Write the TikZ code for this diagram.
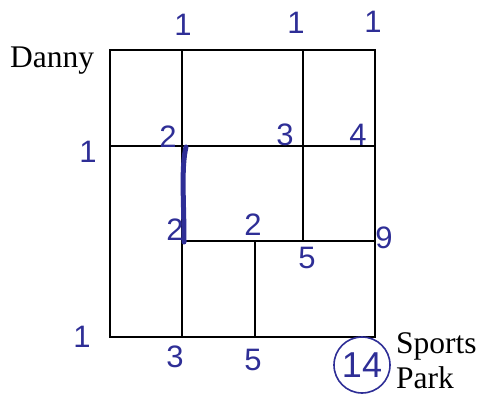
\documentclass[tikz,border=0pt]{standalone}
\usepackage{fontspec}
\setmainfont{Liberation Serif}
\newfontfamily\handfont{Liberation Sans}
\definecolor{ink}{RGB}{46,46,150}
\tikzset{
  wall/.style={draw=black,line width=2pt},
  hand/.style={text=ink,inner sep=0pt,font=\handfont\fontsize{31}{31}\selectfont},
  place/.style={inner sep=0pt,font=\fontsize{31.5}{35}\selectfont}
}
\begin{document}
\begin{tikzpicture}[x=1pt,y=-1pt]
        \useasboundingbox (0,0) rectangle (478,394);
        % streets
        \draw[wall] (110,50) rectangle (375,337);
        \draw[wall] (182,50) -- (182,337);
        \draw[wall] (303,50) -- (303,241);
        \draw[wall] (110,146) -- (375,146);
        \draw[wall] (182,241) -- (375,241);
        \draw[wall] (255,241) -- (255,337);
        % start and end
        \node[place,anchor=base west] (danny) at (10,67) {Danny};
        \node[place,anchor=base west,align=left] (park) at (396,388) {Sports\\Park};
        % path counts
        \foreach \name/\x/\y/\n in {ta/183/25/1,tb/296/23/1,tc/373/22/1,la/88/152/1,lb/82/337/1,
            ma/168/137/2,mb/285/135/3,mc/358/135/4,
            na/175/230/2,nb/253/225/2,nc/384/238/9,nd/307/258/5,
            ba/175/357/3,bb/253/360/5} {
            \node[hand] (\name) at (\x,\y) {\n};
        }
        \node[hand,draw=ink,line width=1.6pt,circle,minimum size=56pt,font=\handfont\fontsize{36}{36}\selectfont] (total) at (362,365) {14};
        \draw[ink,line width=5pt,line cap=round] (186,147) .. controls (181,168) and (184,200) .. (184,242);
    \end{tikzpicture}
\end{document}
